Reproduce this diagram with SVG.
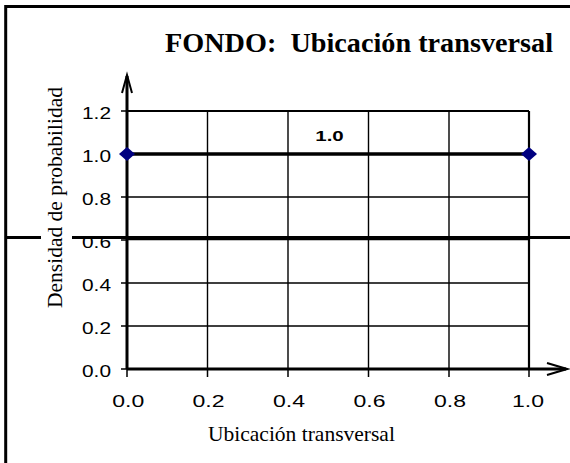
<svg xmlns="http://www.w3.org/2000/svg" width="570" height="463" viewBox="0 0 570 463">
<style>
.frame{fill:none;stroke:#000;stroke-width:3}
.grid{stroke:#000;stroke-width:1.4;fill:none}
.axis{stroke:#000;stroke-width:3;fill:none}
.tick{stroke:#000;stroke-width:1.5}
.num{font-family:"Liberation Sans",Arial,sans-serif;font-size:17px;fill:#000}
.ylab{text-anchor:end}
.xlab{text-anchor:middle}
.title{font-family:"Liberation Serif","Times New Roman",serif;font-weight:bold;font-size:26.5px;fill:#000;white-space:pre}
.atitle{font-family:"Liberation Serif","Times New Roman",serif;font-size:21.5px;fill:#000}
.pt{fill:#000080}
</style>
<rect width="570" height="463" fill="#fff"/>
<path class="frame" d="M5.7,463 V6.5 H570"/>
<g id="title"><text class="title" x="165" y="52" textLength="388" lengthAdjust="spacingAndGlyphs" xml:space="preserve">FONDO:  Ubicación transversal</text></g>
<g id="grid">
<path class="grid" d="M207.5,111 V369 M288,111 V369 M368.5,111 V369 M449,111 V369"/>
<path class="grid" d="M127,197 H529 M127,239.5 H529 M127,283 H529 M127,326 H529"/>
<path class="grid" style="stroke-width:2.2" d="M127,111 H529 M529,111 V369"/>
</g>
<g id="ticks">
<path class="tick" d="M121,111 H127 M121,154 H127 M121,197 H127 M121,240 H127 M121,283 H127 M121,326 H127 M121,369 H127"/>
<path class="tick" d="M127,369 V377 M207.5,369 V377 M288,369 V377 M368.5,369 V377 M449,369 V377 M529,369 V377"/>
</g>
<g id="midline">
<path class="axis" d="M6,237.5 H41 M72,237.5 H570"/>
</g>
<g id="connectors">
<path class="axis" d="M127,369 V76"/>
<path class="axis" style="stroke-width:2" d="M122,93 L127,75 L132,93"/>
<path class="axis" d="M127,369 H566"/>
<path class="axis" style="stroke-width:2" d="M547,363 L567,369 L547,375"/>
<path class="axis" style="stroke-width:3.5" d="M127,154 H529"/>
</g>
<g id="points">
<path class="pt" d="M127,147 L135,154 L127,161 L119,154 Z"/>
<path class="pt" d="M529,147 L537,154 L529,161 L521,154 Z"/>
</g>
<g id="ylabels" class="num ylab">
<text x="111" y="118.5" textLength="29" lengthAdjust="spacingAndGlyphs">1.2</text>
<text x="111" y="161.5" textLength="29" lengthAdjust="spacingAndGlyphs">1.0</text>
<text x="111" y="204.5" textLength="29" lengthAdjust="spacingAndGlyphs">0.8</text>
<text x="111" y="247.5" textLength="29" lengthAdjust="spacingAndGlyphs">0.6</text>
<text x="111" y="290.5" textLength="29" lengthAdjust="spacingAndGlyphs">0.4</text>
<text x="111" y="333.5" textLength="29" lengthAdjust="spacingAndGlyphs">0.2</text>
<text x="111" y="376.5" textLength="29" lengthAdjust="spacingAndGlyphs">0.0</text>
</g>
<g id="xlabels" class="num xlab">
<text x="128.3" y="407" textLength="32" lengthAdjust="spacingAndGlyphs">0.0</text>
<text x="208.5" y="407" textLength="32" lengthAdjust="spacingAndGlyphs">0.2</text>
<text x="289" y="407" textLength="32" lengthAdjust="spacingAndGlyphs">0.4</text>
<text x="369.5" y="407" textLength="32" lengthAdjust="spacingAndGlyphs">0.6</text>
<text x="450" y="407" textLength="32" lengthAdjust="spacingAndGlyphs">0.8</text>
<text x="528" y="407" textLength="32" lengthAdjust="spacingAndGlyphs">1.0</text>
</g>
<g id="label10"><text x="329.5" y="141" textLength="28.5" lengthAdjust="spacingAndGlyphs" style="font-family:'Liberation Sans',Arial,sans-serif;font-weight:bold;font-size:15.5px;text-anchor:middle;fill:#000">1.0</text></g>
<g id="xtitle"><text class="atitle" x="208" y="441">Ubicación transversal</text></g>
<g id="ytitle"><text class="atitle" transform="translate(61.5,197.5) rotate(-90)" text-anchor="middle">Densidad de probabilidad</text></g>
</svg>
